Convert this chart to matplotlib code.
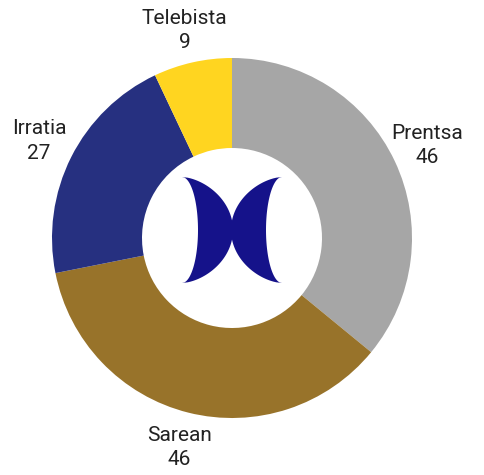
import matplotlib
matplotlib.use("Agg")
import numpy as np
import matplotlib.pyplot as plt
from matplotlib.patches import Polygon

categories = ["Prentsa", "Sarean", "Irratia", "Telebista"]
values = [46, 46, 27, 9]
colors = ["#a6a6a6", "#98732a", "#263080", "#ffd520"]

W, H = 484, 475
cx, cy = 232, H - 238
radius = 180

fig = plt.figure(figsize=(W / 100, H / 100), dpi=100)
ax = fig.add_axes([0, 0, 1, 1])

labels = [f"{c}\n{v}" for c, v in zip(categories, values)]
wedges, texts = ax.pie(
    values, labels=labels, colors=colors, startangle=90, counterclock=False,
    center=(cx, cy), radius=radius, labeldistance=1.2,
    wedgeprops=dict(width=90, edgecolor="none"),
    textprops=dict(fontsize=15, family="Roboto", color="#222222", linespacing=1.35),
    frame=True,
)
for t in texts:
    t.set_ha("center")
    t.set_va("center")
texts[3].set_y(texts[3].get_position()[1] - 3)
ax.set_xlim(0, W)
ax.set_ylim(0, H)
ax.set_aspect("equal")
ax.axis("off")

# logo in the hole: two crescents back to back
logo_y = cy + 8
half = 53


def crescent(sign):
    ys = np.linspace(-half, half, 150)
    base = np.clip(1 - (ys / half) ** 2, 0, 1)
    tip = cx - sign * 50
    inner = tip + sign * 16 * base ** 0.5
    outer = tip + sign * 51 * base ** 0.6
    pts = np.concatenate([
        np.column_stack([inner, logo_y + ys]),
        np.column_stack([outer[::-1], logo_y + ys[::-1]]),
    ])
    return Polygon(pts, closed=True, facecolor="#15128a", edgecolor="none", zorder=5)


ax.add_patch(crescent(1))
ax.add_patch(crescent(-1))

fig.savefig("out.png", dpi=100)
